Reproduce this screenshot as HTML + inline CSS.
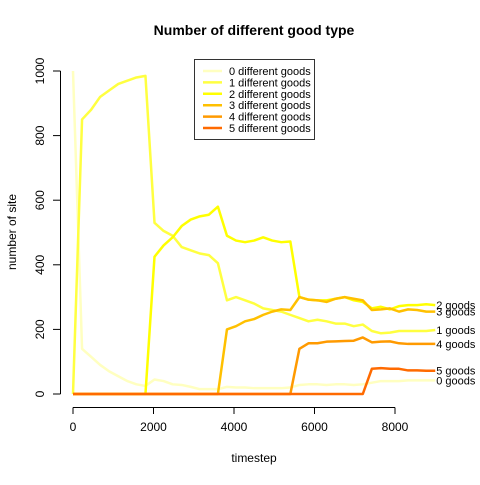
<!DOCTYPE html>
<html><head><meta charset="utf-8"><style>
body{margin:0;background:#fff;}
text{font-family:"Liberation Sans",sans-serif;}
</style></head><body>
<svg id="c" width="480" height="480" xmlns="http://www.w3.org/2000/svg"></svg>
<script>
const times = [0,225,450,675,900,1125,1350,1575,1800,2025,2250,2475,2700,2925,3150,3375,3600,3825,4050,4275,4500,4725,4950,5175,5400,5625,5850,6075,6300,6525,6750,6975,7200,7425,7650,7875,8100,8325,8550,8775,9000];
const goods0 = [1000,140,115,90,70,55,40,30,25,45,40,30,28,22,15,15,15,22,20,20,18,18,18,18,20,28,30,30,28,30,30,28,30,35,40,40,40,42,42,42,42];
const goods1 = [0,850,880,920,940,960,970,980,985,530,505,490,455,445,435,430,405,290,300,290,280,265,260,255,245,235,225,230,225,218,218,210,215,195,188,190,195,195,195,195,198];
const goods2 = [0,0,0,0,0,0,0,0,0,425,460,485,520,540,550,555,580,490,475,470,475,485,475,470,472,300,292,290,290,295,300,290,285,265,270,262,272,275,275,278,275];
const goods3 = [0,0,0,0,0,0,0,0,0,0,0,0,0,0,0,0,0,200,210,225,232,245,255,262,260,300,292,290,285,295,300,295,290,260,262,265,255,262,260,255,255];
const goods4 = [0,0,0,0,0,0,0,0,0,0,0,0,0,0,0,0,0,0,0,0,0,0,0,0,0,140,157,157,162,163,164,165,175,160,162,163,157,155,155,155,155];
const goods5 = [0,0,0,0,0,0,0,0,0,0,0,0,0,0,0,0,0,0,0,0,0,0,0,0,0,0,0,0,0,0,0,0,0,78,80,78,78,73,73,72,72];
const seriesNames = ["0 different goods","1 different goods","2 different goods","3 different goods","4 different goods","5 different goods"];
const endLabels = ["0 goods","1 goods","2 goods","3 goods","4 goods","5 goods"];
const xTicks = [0,2000,4000,6000,8000];
const yTicks = [0,200,400,600,800,1000];
const colors = ["#FFFFC0","#FFFF40","#FFFF00","#FFC000","#FF9A00","#FF6A00"];
const series = [goods0,goods1,goods2,goods3,goods4,goods5];

const NS="http://www.w3.org/2000/svg";
const svg=document.getElementById('c');
const X=t=>73+t*(395-73)/8000;
const Y=v=>394-v*(394-71)/1000;
function mk(tag,attrs,parent){const e=document.createElementNS(NS,tag);for(const k in attrs)e.setAttribute(k,attrs[k]);(parent||svg).appendChild(e);return e;}

let t=mk('text',{x:254,y:35,'text-anchor':'middle','font-size':14,'font-weight':'bold'});t.textContent="Number of different good type";



// x axis
let g=mk('g',{stroke:'#000','stroke-width':1,fill:'none'});


mk('line',{x1:X(0),y1:407.5,x2:X(8000),y2:407.5},g);
xTicks.forEach(v=>{mk('line',{x1:X(v),y1:407.5,x2:X(v),y2:414},g);
 const l=mk('text',{x:X(v),y:431,'text-anchor':'middle','font-size':12,fill:'#000',stroke:'none'});l.textContent=v;
 
 });
// y axis
let gy=mk('g',{stroke:'#000','stroke-width':1,fill:'none'});


mk('line',{x1:60.5,y1:Y(0),x2:60.5,y2:Y(1000)},gy);
yTicks.forEach(v=>{mk('line',{x1:53,y1:Y(v),x2:60.5,y2:Y(v)},gy);
 const l=mk('text',{x:44,y:Y(v),'text-anchor':'middle','font-size':12,fill:'#000',stroke:'none',transform:`rotate(-90 44 ${Y(v)})`});l.textContent=v;
 
 });
t=mk('text',{x:254,y:462,'text-anchor':'middle','font-size':12});t.textContent="timestep";


t=mk('text',{x:16,y:232,'text-anchor':'middle','font-size':12,transform:'rotate(-90 16 232)'});t.textContent="number of site";



series.forEach((s,i)=>{
 const p=mk('polyline',{points:s.map((v,j)=>X(times[j])+','+Y(v)).join(' '),fill:'none',stroke:colors[i],'stroke-width':2.5,'stroke-linejoin':'round'});
 
 
 const last=s[s.length-1];
 const l=mk('text',{x:X(times[times.length-1])+1,y:Y(last)+4,'font-size':11});l.textContent=endLabels[i];
 
 
});

// legend
let lg=mk('g',{});


mk('rect',{x:194.5,y:59.5,width:120,height:80,fill:'#fff',stroke:'#333'},lg);
seriesNames.forEach((n,i)=>{const yy=71+i*11.4;
 mk('line',{x1:203,y1:yy,x2:222,y2:yy,stroke:colors[i],'stroke-width':2.5},lg);
 const l=mk('text',{x:229,y:yy+4,'font-size':11},lg);l.textContent=n;
 
 });
</script>
</body></html>
